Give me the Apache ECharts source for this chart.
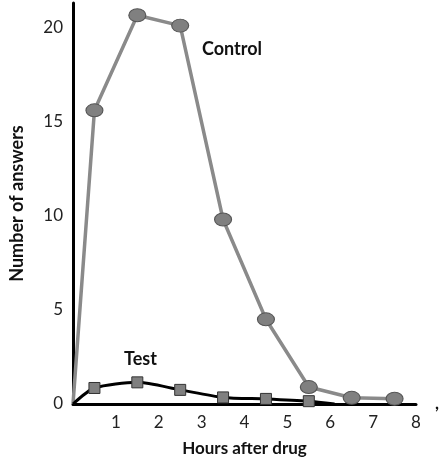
<!DOCTYPE html>
<html>
<head>
<meta charset="utf-8">
<script src="https://cdn.jsdelivr.net/npm/echarts@6/dist/echarts.min.js"></script>
<style>
html,body{margin:0;padding:0;background:#fff;}
#chart{width:447px;height:458px;}
</style>
</head>
<body>
<div id="chart"></div>
<script>
var controlHours = [0, 0.5, 1.5, 2.5, 3.5, 4.5, 5.5, 6.5, 7.5];
var controlValues = [0, 15.6, 20.65, 20.1, 9.8, 4.5, 0.9, 0.33, 0.28];
var testHours = [0, 0.5, 1.5, 2.5, 3.5, 4.5, 5.5, 6.1];
var testValues = [0, 0.85, 1.15, 0.75, 0.35, 0.27, 0.15, 0];
var yTicks = [0, 5, 10, 15, 20];
var xTicks = [1, 2, 3, 4, 5, 6, 7, 8];

var FONT = 'Lato';

function buildData(xs, ys, lastMarked) {
  return xs.map(function (x, i) {
    var item = { value: [x, ys[i]] };
    if (i === 0 || (!lastMarked && i === xs.length - 1)) item.symbol = 'none';
    return item;
  });
}

var chart = echarts.init(document.getElementById('chart'));
chart.setOption({
  animation: false,
  backgroundColor: '#fff',
  grid: { left: 73, top: 3, right: 31, bottom: 54, containLabel: false, outerBoundsMode: 'none' },
  xAxis: {
    type: 'value', min: 0, max: 8, interval: 1,
    axisLine: { show: true, lineStyle: { color: '#000', width: 3 } },
    axisTick: { show: false },
    splitLine: { show: false },
    axisLabel: {
      color: '#222', fontFamily: FONT, fontSize: 17, margin: 10,
      formatter: function (v) { return xTicks.indexOf(v) >= 0 ? String(v) : ''; }
    },
    name: 'Hours after drug', nameLocation: 'middle', nameGap: 36,
    nameTextStyle: { color: '#111', fontFamily: FONT, fontWeight: 'bold', fontSize: 17 }
  },
  yAxis: {
    type: 'value', min: 0, max: 21.3, interval: 5,
    axisLine: { show: true, lineStyle: { color: '#000', width: 3 } },
    axisTick: { show: false },
    splitLine: { show: false },
    axisLabel: {
      color: '#222', fontFamily: FONT, fontSize: 17, margin: 10,
      showMaxLabel: false,
      formatter: function (v) { return yTicks.indexOf(v) >= 0 ? String(v) : ''; }
    },
    name: 'Number of answers', nameLocation: 'middle', nameGap: 47, nameRotate: 90,
    nameTextStyle: { color: '#111', fontFamily: FONT, fontWeight: 'bold', fontSize: 18 }
  },
  series: [
    {
      name: 'Control', type: 'line',
      data: buildData(controlHours, controlValues, true),
      symbol: 'circle', symbolSize: [17, 13],
      lineStyle: { color: '#8a8a8a', width: 3.5 },
      itemStyle: { color: '#808080', borderColor: '#555', borderWidth: 1 },
      z: 2
    },
    {
      name: 'Test', type: 'line', smooth: 0.25,
      data: buildData(testHours, testValues, false),
      symbol: 'rect', symbolSize: 11,
      lineStyle: { color: '#000', width: 3 },
      itemStyle: { color: '#808080', borderColor: '#333', borderWidth: 1 },
      z: 3
    }
  ],
  graphic: [
    { type: 'text', left: 202, top: 40, style: { text: 'Control', fill: '#111', font: 'bold 18px ' + FONT } },
    { type: 'text', left: 124, top: 350, style: { text: 'Test', fill: '#111', font: 'bold 18px ' + FONT } },
    { type: 'text', left: 435, top: 395, style: { text: ',', fill: '#111', font: 'bold 17px ' + FONT } }
  ]
});
</script>
</body>
</html>
